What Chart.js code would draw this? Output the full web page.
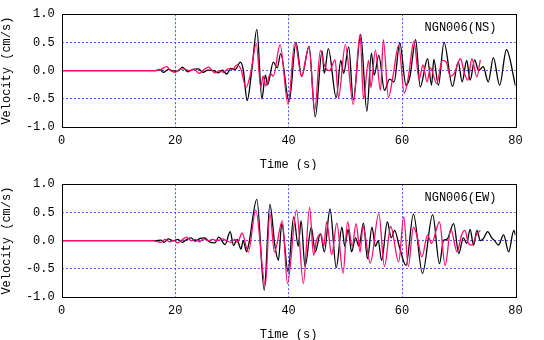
<!DOCTYPE html>
<html>
<head>
<meta charset="utf-8">
<script src="https://cdn.jsdelivr.net/npm/chart.js"></script>
<style>
  body { margin: 0; background: #fff; }
  canvas { display: block; }
</style>
</head>
<body>
<canvas id="ns_chart" width="544" height="170"></canvas>
<canvas id="ew_chart" width="544" height="170"></canvas>
<script>
// NGN006 velocity records, observed (black) and synthetic (magenta)
var xTicks = [0, 20, 40, 60, 80];
var yTicks = [-1.0, -0.5, 0.0, 0.5, 1.0];

var nsObsTime = [0, 16.5, 17.3, 17.9, 18.8, 19.8, 20.6, 21.3, 22.2, 23.1, 24.1, 24.9, 25.8, 26.8, 27.6, 28.3, 29.1, 29.8, 30.6, 31.5, 32.0,
  32.7, 33.5, 34.4, 35.3, 35.9, 36.3, 37.3, 38.0, 38.6, 40.1, 41.3, 42.3, 43.6, 44.7, 45.9, 46.3, 47.0, 48.4, 49.2, 49.7, 50.6,
  51.4, 52.7, 53.8, 54.6, 55.1, 55.9, 56.9, 57.8, 58.6, 59.6, 60.7, 61.4, 62.4, 63.2, 64.5, 65.2, 65.6, 66.4, 67.4, 68.9, 69.9,
  70.6, 71.4, 72.0, 72.8, 73.5, 74.3, 75.2, 76.1, 77.2, 78.4, 80.0];
var nsObsVel = [0, 0, 0.02, -0.03, 0.02, -0.01, 0.0, 0.06, -0.02, 0.02, 0.03, -0.03, 0.01, 0.0, -0.04, 0.01, -0.06, 0.04, 0.02, 0.15, 0.02,
  -0.53, 0.0, 0.73, -0.5, -0.08, -0.25, 0.15, 0.05, 0.3, -0.55, 0.5, -0.1, 0.43, -0.82, 0.35, -0.05, 0.39, -0.48, 0.18, -0.05, 0.42,
  -0.52, 0.64, -0.72, 0.31, -0.08, 0.27, -0.35, -0.15, -0.2, 0.49, -0.26, -0.1, 0.55, -0.29, 0.21, -0.26, 0.2, -0.26, 0.5, -0.28, 0.15,
  -0.2, 0.18, -0.17, 0.19, 0.0, 0.07, -0.2, 0.23, -0.26, 0.37, -0.27];

var nsSynTime = [0, 16.5, 17.5, 18.5, 19.2, 20.0, 20.8, 21.5, 22.5, 23.4, 24.2, 25.0, 25.9, 27.0, 27.8, 28.5, 29.3, 30.1, 30.9, 31.6,
  32.5, 33.3, 34.3, 35.1, 35.5, 36.0, 36.8, 37.3, 38.5, 39.9, 41.1, 42.3, 43.6, 44.6, 45.6, 46.3, 47.2, 48.2, 48.8, 50.0, 51.4,
  52.6, 53.2, 54.1, 54.5, 55.3, 56.2, 56.7, 57.6, 58.4, 59.4, 60.4, 61.1, 62.1, 63.0, 63.7, 64.4, 65.0, 66.1, 67.1, 67.8, 68.5,
  69.2, 70.3, 71.0, 71.6, 72.3, 73.2, 73.8];
var nsSynVel = [0, 0, 0.02, 0.07, 0.0, -0.03, 0.02, 0.03, 0.0, 0.02, -0.05, 0.01, 0.06, -0.04, 0.0, -0.03, 0.03, 0.02, 0.1, 0.02,
  -0.3, -0.05, 0.48, -0.3, -0.1, -0.27, -0.05, -0.1, 0.46, -0.6, 0.5, -0.1, 0.42, -0.7, 0.36, 0.1, 0.0, 0.19, -0.48, 0.46, -0.6,
  0.64, -0.5, 0.18, -0.3, 0.36, -0.35, 0.55, -0.48, -0.1, 0.45, -0.4, -0.12, 0.52, -0.15, 0.1, -0.2, 0.05, -0.23, 0.18, 0.15, -0.1,
  -0.05, 0.21, -0.05, -0.17, 0.21, -0.11, 0.19];

var ewObsTime = [0, 16.5, 17.5, 18.0, 18.8, 19.6, 20.5, 21.3, 22.0, 22.8, 23.5, 24.4, 25.2, 26.0, 27.0, 27.7, 28.8, 29.7, 30.3,
  30.9, 31.6, 32.0, 32.6, 33.0, 34.4, 35.7, 36.7, 37.6, 38.2, 38.8, 39.9, 40.9, 41.7, 42.2, 42.9, 44.0, 44.7, 45.6, 46.3, 47.3,
  48.4, 49.4, 49.9, 50.5, 51.1, 51.8, 52.4, 53.2, 53.9, 54.7, 55.3, 55.8, 56.4, 57.4, 58.1, 58.7, 59.5, 60.7, 62.0, 63.6, 65.4,
  66.6, 67.3, 67.9, 69.1, 70.0, 70.8, 71.4, 72.0, 72.6, 73.2, 73.8, 74.3, 75.1, 75.8, 76.3, 77.0, 77.9, 78.8, 79.7, 80.0];
var ewObsVel = [0, 0, 0.01, -0.03, 0.03, 0.0, 0.02, -0.03, 0.02, 0.05, -0.01, 0.04, 0.05, -0.02, -0.04, 0.06, -0.07, 0.16, -0.09,
  0.02, -0.15, 0.0, -0.2, -0.05, 0.73, -0.88, 0.64, -0.1, -0.35, 0.3, -0.55, 0.42, -0.1, 0.35, -0.46, 0.24, -0.2, 0.12, -0.2, 0.56,
  -0.48, 0.24, -0.1, 0.2, -0.2, 0.05, -0.1, 0.31, -0.32, 0.24, -0.1, 0.0, -0.35, 0.33, 0.05, 0.18, -0.1, -0.44, 0.47, -0.58, 0.46,
  -0.41, 0.0, 0.02, 0.3, -0.23, 0.05, -0.05, 0.2, -0.08, 0.18, 0.0, 0.03, 0.16, 0.05, 0.0, -0.08, 0.1, -0.2, 0.18, 0.1];

var ewSynTime = [0, 16.0, 17.5, 18.2, 19.0, 19.8, 20.4, 21.3, 22.0, 22.8, 23.5, 24.3, 25.0, 25.8, 26.6, 27.5, 28.3, 29.0, 29.8,
  30.5, 31.0, 31.8, 32.9, 34.2, 35.9, 36.7, 37.5, 38.9, 39.8, 41.4, 42.6, 43.7, 44.4, 44.9, 45.7, 46.2, 46.7, 47.6, 48.5, 49.6,
  50.4, 51.2, 51.9, 52.6, 53.1, 54.4, 55.9, 56.9, 58.0, 59.4, 60.3, 61.1, 62.0, 62.6, 63.5, 64.5, 65.2, 66.6, 67.6, 68.6, 69.7,
  70.5, 71.1, 71.7, 72.3, 73.1, 73.8];
var ewSynVel = [0, 0, -0.03, 0.02, -0.02, 0.0, -0.04, 0.02, 0.06, 0.0, 0.02, -0.02, 0.03, 0.0, 0.02, 0.0, 0.03, 0.0, -0.03,
  0.02, -0.03, 0.13, -0.2, 0.54, -0.79, 0.48, -0.2, 0.35, -0.76, 0.54, -0.76, 0.59, -0.26, 0.0, 0.12, -0.1, 0.33, -0.25, 0.31, -0.58,
  0.33, -0.1, 0.3, -0.2, 0.25, -0.4, 0.48, -0.46, 0.25, -0.38, 0.42, -0.46, 0.24, 0.1, -0.29, 0.1, -0.05, 0.33, -0.44, 0.2, -0.2,
  0.1, 0.18, -0.05, -0.08, 0.1, 0.18];

var labelFont = { family: 'Liberation Mono', size: 12 };
var gridBlue = '#5454ff';

function toPoints(ts, vs) {
  return ts.map(function (t, i) { return { x: t, y: vs[i] }; });
}

// frame around the plot area plus the station label in the corner
var framePlugin = {
  id: 'frame',
  afterDraw: function (chart, args, opts) {
    var a = chart.chartArea, ctx = chart.ctx;
    ctx.save();
    ctx.strokeStyle = '#000';
    ctx.lineWidth = 1;
    ctx.strokeRect(Math.round(a.left) + 0.5, Math.round(a.top) + 0.5,
      Math.round(a.right - a.left), Math.round(a.bottom - a.top));
    ctx.fillStyle = '#000';
    ctx.font = '12px "Liberation Mono"';
    ctx.textAlign = 'right';
    ctx.textBaseline = 'middle';
    ctx.fillText(opts.station, a.right - 19, a.top + 14);
    ctx.restore();
  }
};

function makeChart(id, station, obsT, obsV, synT, synV) {
  return new Chart(document.getElementById(id), {
    type: 'line',
    data: {
      datasets: [
        { data: toPoints(synT, synV), borderColor: '#ff0a6c', borderWidth: 1.3 },
        { data: toPoints(obsT, obsV), borderColor: '#000000', borderWidth: 1.3 }
      ]
    },
    options: {
      responsive: false,
      animation: false,
      devicePixelRatio: 1,
      parsing: false,
      layout: { padding: { left: 0, right: 28.5, top: 11.7, bottom: 0 } },
      elements: {
        point: { radius: 0 },
        line: { cubicInterpolationMode: 'monotone', fill: false }
      },
      plugins: {
        legend: { display: false },
        tooltip: { enabled: false },
        frame: { station: station }
      },
      scales: {
        x: {
          type: 'linear', min: 0, max: 80,
          afterBuildTicks: function (s) { s.ticks = xTicks.map(function (v) { return { value: v }; }); },
          afterFit: function (s) { s.height = 43; },
          ticks: { color: '#000', font: labelFont, padding: 7 },
          grid: {
            drawTicks: false,
            color: function (c) { return (c.tick.value === 0 || c.tick.value === 80) ? 'rgba(0,0,0,0)' : gridBlue; }
          },
          border: { display: false, dash: [2, 2] },
          title: { display: true, text: 'Time (s)', color: '#000', font: labelFont, padding: { top: 0, bottom: -2 } }
        },
        y: {
          min: -1, max: 1,
          afterBuildTicks: function (s) { s.ticks = yTicks.map(function (v) { return { value: v }; }); },
          afterFit: function (s) { s.width = 61.7; },
          ticks: {
            color: '#000', font: labelFont, padding: 7,
            callback: function (v) { return Number(v).toFixed(1); }
          },
          grid: {
            drawTicks: false,
            color: function (c) { return Math.abs(c.tick.value) === 1 ? 'rgba(0,0,0,0)' : gridBlue; }
          },
          border: { display: false, dash: [2, 2] },
          title: { display: true, text: 'Velocity (cm/s)', color: '#000', font: labelFont, padding: 0 }
        }
      }
    },
    plugins: [framePlugin]
  });
}

makeChart('ns_chart', 'NGN006(NS)', nsObsTime, nsObsVel, nsSynTime, nsSynVel);
makeChart('ew_chart', 'NGN006(EW)', ewObsTime, ewObsVel, ewSynTime, ewSynVel);
</script>
</body>
</html>
